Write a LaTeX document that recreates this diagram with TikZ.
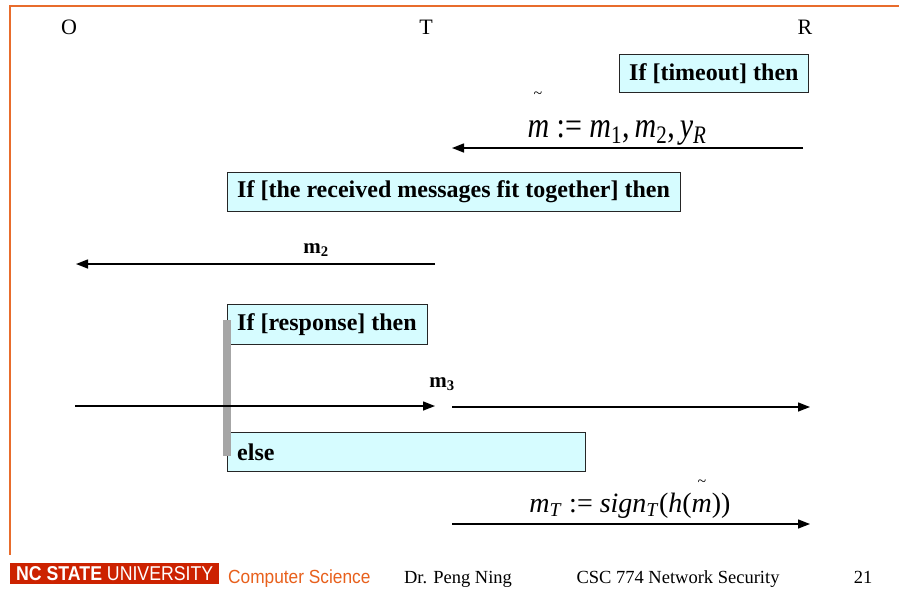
\documentclass[tikz,border=0pt]{standalone}
\usepackage{fontspec}
\setmainfont{Liberation Serif}
\newfontfamily\arialf{Liberation Sans}
\usetikzlibrary{arrows.meta}
\definecolor{framecol}{RGB}{232,108,44}
\definecolor{boxfill}{RGB}{214,252,255}
\definecolor{barcol}{RGB}{166,166,166}
\definecolor{ncred}{RGB}{204,34,0}
\definecolor{csorange}{RGB}{232,96,28}
\begin{document}
\begin{tikzpicture}[x=1pt,y=-1pt,
  cond/.style={draw=black!85, line width=1.2pt, fill=boxfill, anchor=north west, inner sep=0pt},
  condtext/.style={anchor=west, font=\fontsize{24}{28}\selectfont\bfseries, inner sep=0pt},
  role/.style={font=\fontsize{22}{26}\selectfont, inner sep=0pt},
  msg/.style={line width=1.4pt, -{Triangle[length=12pt,width=9pt]}},
  mlabel/.style={font=\fontsize{21}{24}\selectfont\bfseries, inner sep=0pt, anchor=base},
  formula/.style={font=\fontsize{28}{32}\selectfont, inner sep=0pt, anchor=base},
  tildemark/.style={font=\fontsize{16}{18}\selectfont, inner sep=0pt},
  foot/.style={font=\fontsize{18.5}{21}\selectfont, inner sep=0pt, anchor=base}]
\useasboundingbox (0,0) rectangle (899,600);
\fill[white] (0,0) rectangle (899,600);

% slide frame
\draw[framecol, line width=1.3pt] (899,6) -- (10,6) -- (10,555);

% participants
\node[role] (O) at (69,27) {O};
\node[role] (T) at (426,27) {T};
\node[role] (R) at (805,27) {R};

% timeout branch
\node[cond, minimum width=189pt, minimum height=38pt] (c1) at (619,54) {};
\node[condtext] (c1t) at ([xshift=10pt]c1.west) {If [timeout] then};
\node[formula, font=\fontsize{30}{34}\selectfont] (f1) at (617,137)
  {\scalebox{1}[1.2]{\textit{m} := \textit{m}\textsubscript{1},\,\textit{m}\textsubscript{2},\,\textit{y}\textsubscript{\textit{R}}}};
\node[tildemark] (f1t) at (538,95) {\textasciitilde};
\coordinate (a1s) at (803,148);
\coordinate (a1e) at (452,148);
\draw[msg] (a1s) -- (a1e);

% fit check
\node[cond, minimum width=453pt, minimum height=39pt] (c2) at (227,172) {};
\node[condtext] (c2t) at ([xshift=10pt]c2.west) {If [the received messages fit together] then};
\node[mlabel] (m2) at (316,253) {m\textsubscript{2}};
\coordinate (a2s) at (435,264);
\coordinate (a2e) at (76,264);
\draw[msg] (a2s) -- (a2e);

% response branch
\node[cond, minimum width=200pt, minimum height=40pt] (c3) at (227,304) {};
\node[condtext] (c3t) at ([xshift=10pt]c3.west) {If [response] then};
\node[cond, minimum width=358pt, minimum height=39pt] (c4) at (227,432) {};
\node[condtext] (c4t) at ([xshift=10pt]c4.west) {else};
\fill[barcol] (222.5,320) rectangle (231,456);

\node[mlabel] (m3) at (442,387) {m\textsubscript{3}};
\coordinate (a3s) at (75,406);
\coordinate (a3e) at (435,406);
\draw[msg] (a3s) -- (a3e);
\coordinate (a4s) at (452,407);
\coordinate (a4e) at (810,407);
\draw[msg] (a4s) -- (a4e);

% signature
\node[formula] (f2) at (630,512) {\textit{m}\textsubscript{\textit{T}} := \textit{sign}\textsubscript{\textit{T}}(\textit{h}(\textit{m}))};
\node[tildemark] (f2t) at (702,483) {\textasciitilde};
\coordinate (a5s) at (452,524);
\coordinate (a5e) at (810,524);
\draw[msg] (a5s) -- (a5e);

% footer
\node[fill=ncred, text=white, inner sep=0pt, minimum width=209pt, minimum height=21pt, anchor=north west] (ncsu) at (10,563)
  {\arialf\fontsize{20}{22}\selectfont\scalebox{0.885}[1]{\textbf{NC STATE} UNIVERSITY}};
\node[foot, anchor=base west, text=csorange] (cs) at (228,583)
  {\arialf\fontsize{19}{22}\selectfont\scalebox{0.91}[1]{Computer Science}};
\node[foot] (author) at (458,583) {Dr. Peng Ning};
\node[foot] (course) at (678,583) {CSC 774 Network Security};
\node[foot] (page) at (863,583) {21};
\end{tikzpicture}
\end{document}
